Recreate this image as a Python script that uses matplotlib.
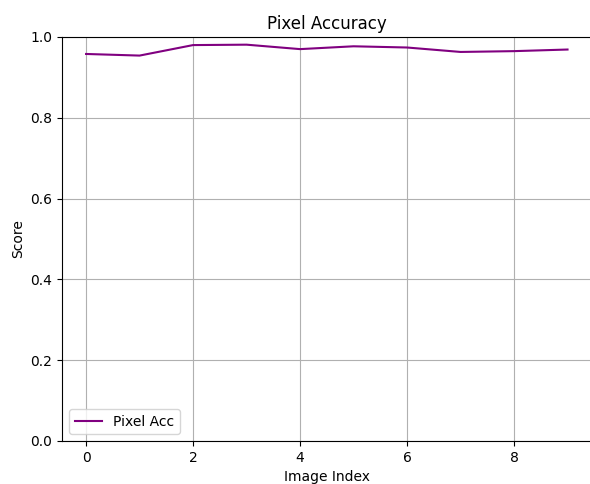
import matplotlib
matplotlib.use("Agg")
import matplotlib.pyplot as plt

image_index = list(range(10))
pixel_acc = [0.958, 0.954, 0.980, 0.981, 0.970, 0.977, 0.974, 0.963, 0.965, 0.969]

fig = plt.figure(figsize=(5.9, 4.84), dpi=100)
W, H = 590, 484
ax = fig.add_axes([62 / W, (H - 441) / H, (591.6 - 62) / W, (441 - 37) / H])
ax.plot(image_index, pixel_acc, color="purple", label="Pixel Acc")
ax.set_ylim(0, 1.0)
ax.set_title("Pixel Accuracy")
ax.set_xlabel("Image Index")
ax.set_ylabel("Score")
ax.grid(True)
ax.legend(loc="lower left")
fig.savefig("out.png", dpi=100)
